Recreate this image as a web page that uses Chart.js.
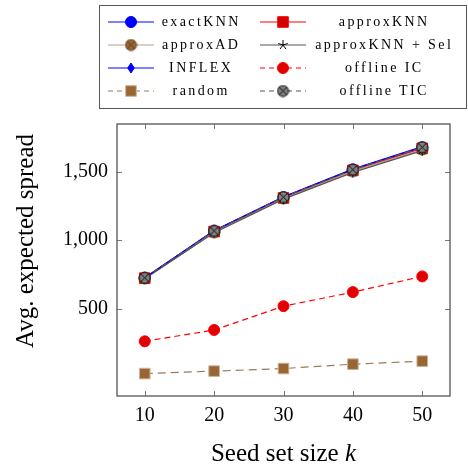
<!DOCTYPE html>
<html>
<head>
<meta charset="utf-8">
<script src="https://cdn.jsdelivr.net/npm/chart.js@4.4.0/dist/chart.umd.min.js"></script>
<style>
  body { margin: 0; background: #fff; }
  #wrap { position: relative; width: 468px; height: 466px; }
  #legendBox { position: absolute; left: 99px; top: 5px; width: 368px; height: 104px; border: 1px solid #555; box-sizing: border-box; }
  .lbl { position: absolute; width: 170px; height: 20px; line-height: 20px; text-align: center;
         font-family: "Liberation Serif", serif; font-size: 14px; letter-spacing: 2.4px; padding-left: 2.4px; box-sizing: border-box; }
  .sw { position: absolute; }
</style>
</head>
<body>
<div id="wrap">
  <canvas id="chart" width="468" height="466"></canvas>
  <div id="legendBox"></div>
</div>
<script>
// values
const seedSizes = [10, 20, 30, 40, 50];
const exactKNN = [725, 1068, 1315, 1518, 1680];
const approxKNN = [722, 1063, 1309, 1511, 1672];
const approxAD = [719, 1058, 1305, 1505, 1663];
const approxKNNSel = [717, 1055, 1300, 1496, 1655];
const inflex = [726, 1070, 1318, 1520, 1684];
const offlineIC = [260, 343, 517, 620, 735];
const random = [24, 42, 61, 93, 115];
const offlineTIC = [725, 1068, 1315, 1516, 1680];

const seriesNames = ['exactKNN', 'approxKNN', 'approxAD', 'approxKNN + Sel', 'INFLEX', 'offline IC', 'random', 'offline TIC'];
const seriesValues = [exactKNN, approxKNN, approxAD, approxKNNSel, inflex, offlineIC, random, offlineTIC];

const xTicks = [10, 20, 30, 40, 50];
const yTicks = [500, 1000, 1500];
const yTickLabels = ['500', '1,000', '1,500'];

// small circle-with-cross marker (\otimes)
function otimes(fill, stroke) {
  const c = document.createElement('canvas');
  c.width = 13; c.height = 13;
  const g = c.getContext('2d');
  g.beginPath(); g.arc(6.5, 6.5, 5.5, 0, Math.PI * 2);
  g.fillStyle = fill; g.fill();
  g.lineWidth = 0.9; g.strokeStyle = stroke; g.stroke();
  const d = 5.5 * Math.SQRT1_2;
  g.beginPath();
  g.moveTo(6.5 - d, 6.5 - d); g.lineTo(6.5 + d, 6.5 + d);
  g.moveTo(6.5 + d, 6.5 - d); g.lineTo(6.5 - d, 6.5 + d);
  g.stroke();
  return c;
}

const seriesStyles = [
  { line: '#0000ff', fill: '#0000ff', edge: '#0000ff', point: 'circle', r: 5.5, dash: [] },
  { line: '#ff0000', fill: '#d00000', edge: '#ff0000', point: 'rect', r: 7.5, dash: [] },
  { line: '#b8a088', fill: '#996633', edge: '#996633', point: otimes('#996633', '#5a3a1a'), r: 6, dash: [] },
  { line: '#555555', fill: '#000000', edge: '#000000', point: 'star', r: 5, dash: [] },
  { line: '#0000ff', fill: '#0000ff', edge: '#0000ff', point: 'rectRot', r: 5, dash: [] },
  { line: '#ff0000', fill: '#e00000', edge: '#ff0000', point: 'circle', r: 5.5, dash: [6, 4] },
  { line: '#9c7a58', fill: '#996633', edge: '#c8b49c', point: 'rect', r: 7.5, dash: [8, 5] },
  { line: '#555555', fill: '#808080', edge: '#000000', point: otimes('#808080', '#000000'), r: 6, dash: [6, 4] }
];

const datasets = seriesNames.map((name, i) => ({
  label: name,
  data: seedSizes.map((x, j) => ({ x: x, y: seriesValues[i][j] })),
  borderColor: seriesStyles[i].line,
  borderWidth: 1.2,
  borderDash: seriesStyles[i].dash,
  pointStyle: seriesStyles[i].point,
  pointRadius: seriesStyles[i].r,
  pointBackgroundColor: seriesStyles[i].fill,
  pointBorderColor: seriesStyles[i].edge,
  pointBorderWidth: 1,
  tension: 0,
  order: seriesNames.length - 1 - i
}));

const serif = '"Liberation Serif", serif';

const axisDecor = {
  id: 'axisDecor',
  beforeDatasetsDraw(chart) {
    const { ctx, chartArea: a, scales } = chart;
    ctx.save();
    ctx.strokeStyle = '#777';
    ctx.lineWidth = 1;
    xTicks.forEach(v => {
      const px = Math.round(scales.x.getPixelForValue(v)) + 0.5;
      ctx.beginPath();
      ctx.moveTo(px, a.bottom); ctx.lineTo(px, a.bottom - 5);
      ctx.moveTo(px, a.top); ctx.lineTo(px, a.top + 5);
      ctx.stroke();
    });
    yTicks.forEach(v => {
      const py = Math.round(scales.y.getPixelForValue(v)) + 0.5;
      ctx.beginPath();
      ctx.moveTo(a.left, py); ctx.lineTo(a.left + 5, py);
      ctx.moveTo(a.right, py); ctx.lineTo(a.right - 5, py);
      ctx.stroke();
    });
    ctx.strokeStyle = '#555';
    ctx.lineWidth = 1.3;
    ctx.strokeRect(a.left, a.top, a.right - a.left, a.bottom - a.top);
    ctx.restore();
  },
  afterDraw(chart) {
    const { ctx, chartArea: a } = chart;
    ctx.save();
    ctx.fillStyle = '#000';
    ctx.textBaseline = 'alphabetic';
    // x title with italic k
    const part1 = 'Seed set size ';
    ctx.font = '25px ' + serif;
    const w1 = ctx.measureText(part1).width;
    ctx.font = 'italic 25px ' + serif;
    const w2 = ctx.measureText('k').width;
    const x0 = (a.left + a.right) / 2 - (w1 + w2) / 2;
    ctx.font = '25px ' + serif;
    ctx.fillText(part1, x0, 461);
    ctx.font = 'italic 25px ' + serif;
    ctx.fillText('k', x0 + w1, 461);
    // y title
    ctx.font = '25px ' + serif;
    ctx.translate(26, 241);
    ctx.rotate(-Math.PI / 2);
    ctx.textAlign = 'center';
    ctx.textBaseline = 'middle';
    ctx.fillText('Avg. expected spread', 0, 0);
    ctx.restore();
  }
};

const chart = new Chart(document.getElementById('chart'), {
  type: 'line',
  data: { datasets: datasets },
  options: {
    responsive: false,
    animation: false,
    devicePixelRatio: 1,
    layout: { padding: { top: 124, right: 18, left: 0, bottom: 0 } },
    plugins: { legend: { display: false }, tooltip: { enabled: false } },
    scales: {
      x: {
        type: 'linear', min: 6, max: 54,
        afterBuildTicks: s => { s.ticks = xTicks.map(v => ({ value: v })); },
        afterFit: s => { s.height = 70; },
        grid: { display: false, drawTicks: false },
        border: { display: false },
        ticks: { color: '#000', font: { family: serif, size: 20 }, padding: 8 }
      },
      y: {
        type: 'linear', min: -140, max: 1850,
        afterBuildTicks: s => { s.ticks = yTicks.map(v => ({ value: v })); },
        afterFit: s => { s.width = 117; },
        grid: { display: false, drawTicks: false },
        border: { display: false },
        ticks: {
          color: '#000', font: { family: serif, size: 20 }, padding: 9,
          callback: v => yTickLabels[yTicks.indexOf(v)]
        }
      }
    }
  },
  plugins: [axisDecor]
});

// legend in two columns, built from the same names and styles
function drawSwatch(cv, st) {
  const g = cv.getContext('2d');
  const cy = cv.height / 2, cx = cv.width / 2;
  g.strokeStyle = st.line; g.lineWidth = 1.2;
  g.setLineDash(st.dash.length ? [5, 4] : []);
  g.beginPath(); g.moveTo(2, cy); g.lineTo(cv.width - 2, cy); g.stroke();
  g.setLineDash([]);
  if (typeof st.point !== 'string') {
    g.drawImage(st.point, cx - st.point.width / 2, cy - st.point.height / 2);
    return;
  }
  g.fillStyle = st.fill; g.strokeStyle = st.edge; g.lineWidth = 1;
  g.beginPath();
  if (st.point === 'circle') {
    g.arc(cx, cy, st.r, 0, Math.PI * 2); g.fill(); g.stroke();
  } else if (st.point === 'rect') {
    const h = st.r * Math.SQRT1_2;
    g.rect(cx - h, cy - h, 2 * h, 2 * h); g.fill(); g.stroke();
  } else if (st.point === 'rectRot') {
    g.moveTo(cx, cy - st.r); g.lineTo(cx + st.r * 0.65, cy); g.lineTo(cx, cy + st.r); g.lineTo(cx - st.r * 0.65, cy);
    g.closePath(); g.fill(); g.stroke();
  } else if (st.point === 'star') {
    g.strokeStyle = st.fill;
    for (let k = 0; k < 5; k++) {
      const t = -Math.PI / 2 + k * 2 * Math.PI / 5;
      g.moveTo(cx, cy); g.lineTo(cx + st.r * Math.cos(t), cy + st.r * Math.sin(t));
    }
    g.stroke();
  }
}

const wrap = document.getElementById('wrap');
const colSwatchLeft = [106, 258];
const colTextCenter = [200, 383];
seriesNames.forEach((name, i) => {
  const col = i % 2, row = Math.floor(i / 2);
  const cy = 22 + row * 23;
  const cv = document.createElement('canvas');
  cv.width = 50; cv.height = 20; cv.className = 'sw';
  cv.style.left = colSwatchLeft[col] + 'px';
  cv.style.top = (cy - 10) + 'px';
  drawSwatch(cv, seriesStyles[i]);
  wrap.appendChild(cv);
  const d = document.createElement('div');
  d.className = 'lbl';
  d.textContent = name;
  d.style.left = (colTextCenter[col] - 85) + 'px';
  d.style.top = (cy - 10) + 'px';
  wrap.appendChild(d);
});
</script>
</body>
</html>
